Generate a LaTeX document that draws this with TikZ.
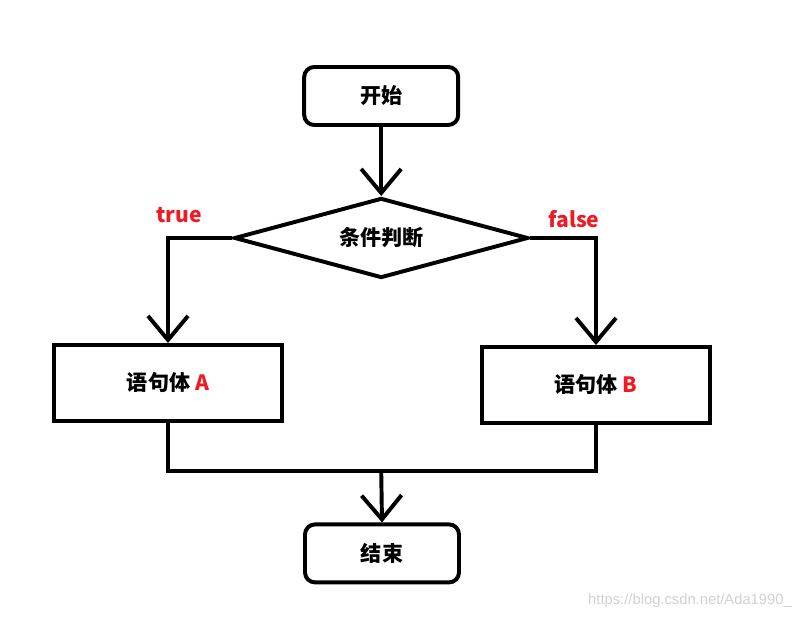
\documentclass[tikz,border=0pt]{standalone}
\usepackage{fontspec}
\newfontfamily\cjk{Noto Sans CJK SC}
\setsansfont{Liberation Sans}
\usetikzlibrary{shapes.geometric,arrows.meta}
\definecolor{lred}{RGB}{237,28,36}
\def\pfeil#1#2{\draw[->] #1 -- #2;}

\begin{document}
\begin{tikzpicture}[>={Straight Barb[length=0.6cm,width=1.0cm]},line width=2.8pt,
  startbox/.style={draw,rounded corners=0.25cm,minimum width=3.85cm,minimum height=1.45cm,font=\cjk\bfseries\fontsize{15}{18}\selectfont},
  cond/.style={draw,diamond,aspect=3.7,inner sep=0pt,minimum width=7.35cm,minimum height=2cm,font=\cjk\bfseries\fontsize{15}{18}\selectfont},
  body/.style={draw,minimum width=5.72cm,minimum height=1.9cm,font=\cjk\bfseries\fontsize{15}{18}\selectfont},
  lab/.style={text=lred,font=\cjk\bfseries\fontsize{15}{18}\selectfont}]
\useasboundingbox (0,0) rectangle (20.3,15.475);
\node[startbox] (Start) at (9.53,13.075) {开始};
\node[cond] (Cond) at (9.53,9.525) {条件判断};
\node[body] (A) at (4.2,5.9) {语句体 \textcolor{lred}{A}};
\node[body] (B) at (14.9,5.85) {语句体 \textcolor{lred}{B}};
\node[startbox] (End) at (9.55,1.64) {结束};
\coordinate (M) at (9.53,3.7);
\node[lab] (T) at (4.475,10.1) {true};
\node[lab] (F) at (14.35,10.0) {false};
\node[text=black!18,font=\sffamily\fontsize{10.5}{12}\selectfont] (W) at (17.25,0.45) {https://blog.csdn.net/Ada1990\_};
\pfeil{(Start)}{(Cond)}
\draw[->] (Cond.west) -| (A.north);
\draw[->] (Cond.east) -| (B.north);
\draw (A.south) |- (M) -| (B.south);
\pfeil{(M)}{(End.north)}
\end{tikzpicture}
\end{document}
